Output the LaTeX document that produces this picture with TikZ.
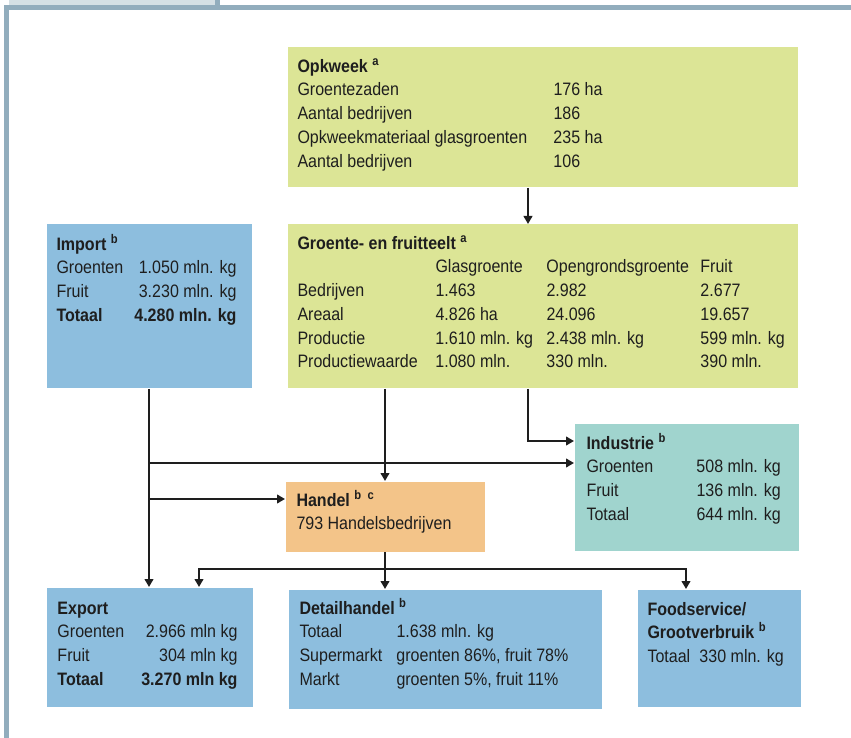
\documentclass[tikz,border=0pt]{standalone}
\usepackage{fontspec}
\setmainfont{Liberation Sans}[FakeStretch=0.89]
\usepackage{array}
\usetikzlibrary{arrows.meta}

\definecolor{kasgroen}{RGB}{220,229,150}
\definecolor{lichtblauw}{RGB}{141,190,222}
\definecolor{zeegroen}{RGB}{160,212,206}
\definecolor{oranje}{RGB}{243,196,137}
\definecolor{kader}{RGB}{146,173,189}
\definecolor{tabblad}{RGB}{213,224,229}
\definecolor{inkt}{RGB}{30,30,30}

\tikzset{every picture/.style={line width=0.75pt}}
\tikzset{
  vak/.style={rectangle, anchor=north west, inner sep=0pt, draw=none},
  tekst/.style={anchor=north west, inner sep=0pt, text=inkt, font=\fontsize{13.5}{17.8}\selectfont},
  pijl/.style={draw=inkt, line width=1.5pt, -{Triangle[length=6pt,width=6.5pt]}}
}

\begin{document}
\begin{tikzpicture}[x=0.75pt,y=0.75pt,yscale=-1,xscale=1]
	\useasboundingbox (0,0) rectangle (851,738);

	%Frame
	\fill [tabblad] (9,0) rectangle (216,5);
	\fill [kader] (215,0) rectangle (220,8);
	\fill [kader] (4,5) rectangle (851,10);
	\fill [kader] (4,5) rectangle (9,738);

	%Boxes
	\node [vak, fill=kasgroen, minimum width=382.5pt, minimum height=105pt] (opk) at (287,47) {};
	\node [vak, fill=kasgroen, minimum width=382.5pt, minimum height=123pt] (gf) at (287,224) {};
	\node [vak, fill=lichtblauw, minimum width=153.75pt, minimum height=123pt] (imp) at (46,224) {};
	\node [vak, fill=zeegroen, minimum width=168pt, minimum height=94.5pt] (ind) at (574,424) {};
	\node [vak, fill=oranje, minimum width=149.25pt, minimum height=52.5pt] (han) at (285,481) {};
	\node [vak, fill=lichtblauw, minimum width=154.5pt, minimum height=89.25pt] (exp) at (46,587) {};
	\node [vak, fill=lichtblauw, minimum width=234.75pt, minimum height=89.25pt] (det) at (288,589) {};
	\node [vak, fill=lichtblauw, minimum width=122.25pt, minimum height=87.75pt] (food) at (637,589) {};

	% Text Node
	\node [tekst] (opkt) at ([shift={(10,8)}]opk.north west) {\begin{tabular}{@{}p{192pt}@{}l@{}}
		\multicolumn{2}{@{}l}{\textbf{Opkweek \textsuperscript{a}}}\\
		Groentezaden & 176 ha\\
		Aantal bedrijven & 186\\
		Opkweekmateriaal glasgroenten & 235 ha\\
		Aantal bedrijven & 106
	\end{tabular}};
	% Text Node
	\node [tekst] (gft) at ([shift={(10,8)}]gf.north west) {\begin{tabular}{@{}p{103.5pt}@{}p{83.25pt}@{}p{115.5pt}@{}l@{}}
		\multicolumn{4}{@{}l}{\textbf{Groente- en fruitteelt \textsuperscript{a}}}\\
		 & Glasgroente & Opengrondsgroente & Fruit\\
		Bedrijven & 1.463 & 2.982 & 2.677\\
		Areaal & 4.826 ha & 24.096 & 19.657\\
		Productie & 1.610 mln. kg & 2.438 mln. kg & 599 mln. kg\\
		Productiewaarde & 1.080 mln. & 330 mln. & 390 mln.
	\end{tabular}};
	% Text Node
	\node [tekst] (impt) at ([shift={(10,9)}]imp.north west) {\begin{tabular}{@{}p{52.5pt}@{}>{\raggedleft\arraybackslash}p{82.5pt}@{}}
		\multicolumn{2}{@{}l}{\textbf{Import \textsuperscript{b}}}\\
		Groenten & 1.050 mln. kg\\
		Fruit & 3.230 mln. kg\\
		\textbf{Totaal} & \textbf{4.280 mln. kg}
	\end{tabular}};
	% Text Node
	\node [tekst] (indt) at ([shift={(12,8)}]ind.north west) {\begin{tabular}{@{}p{82.5pt}@{}l@{}}
		\multicolumn{2}{@{}l}{\textbf{Industrie \textsuperscript{b}}}\\
		Groenten & 508 mln. kg\\
		Fruit & 136 mln. kg\\
		Totaal & 644 mln. kg
	\end{tabular}};
	% Text Node
	\node [tekst] (hant) at ([shift={(11,8)}]han.north west) {\begin{tabular}{@{}l@{}}
		\textbf{Handel \textsuperscript{b\enspace c}}\\
		793 Handelsbedrijven
	\end{tabular}};
	% Text Node
	\node [tekst] (expt) at ([shift={(11,10)}]exp.north west) {\begin{tabular}{@{}p{52.5pt}@{}>{\raggedleft\arraybackslash}p{82.5pt}@{}}
		\multicolumn{2}{@{}l}{\textbf{Export}}\\
		Groenten & 2.966 mln kg\\
		Fruit & 304 mln kg\\
		\textbf{Totaal} & \textbf{3.270 mln kg}
	\end{tabular}};
	% Text Node
	\node [tekst] (dett) at ([shift={(11,8)}]det.north west) {\begin{tabular}{@{}p{72.75pt}@{}l@{}}
		\multicolumn{2}{@{}l}{\textbf{Detailhandel \textsuperscript{b}}}\\
		Totaal & 1.638 mln. kg\\
		Supermarkt & groenten 86\%, fruit 78\%\\
		Markt & groenten 5\%, fruit 11\%
	\end{tabular}};
	% Text Node
	\node [tekst] (foodt) at ([shift={(10,9)}]food.north west) {\begin{tabular}{@{}p{39pt}@{}l@{}}
		\multicolumn{2}{@{}l}{\textbf{Foodservice/}}\\
		\multicolumn{2}{@{}l}{\textbf{Grootverbruik \textsuperscript{b}}}\\
		Totaal & 330 mln. kg
	\end{tabular}};

	%Connectors
	\coordinate (kolom) at (528,0);
	\coordinate (tak1) at (0,463);
	\coordinate (tak2) at (0,499);
	\coordinate (tak3) at (0,441);
	\coordinate (verdeel) at (0,569);
	\coordinate (links) at (199,0);
	\coordinate (rechts) at (686,0);

	\draw [pijl] (opk.south -| kolom) -- (gf.north -| kolom);
	\draw [pijl] (imp.south) -- (exp.north -| imp.south);
	\draw [pijl] (imp.south |- tak1) -- (ind.west |- tak1);
	\draw [pijl] (imp.south |- tak2) -- (han.west |- tak2);
	\draw [pijl] (gf.south -| han.north) -- (han.north);
	\draw [pijl] (gf.south -| kolom) |- (ind.west |- tak3);
	\draw [pijl] (han.south) -- (det.north -| han.south);
	\draw [pijl] (han.south |- verdeel) -| (exp.north -| links);
	\draw [pijl] (han.south |- verdeel) -| (food.north -| rechts);

\end{tikzpicture}
\end{document}
